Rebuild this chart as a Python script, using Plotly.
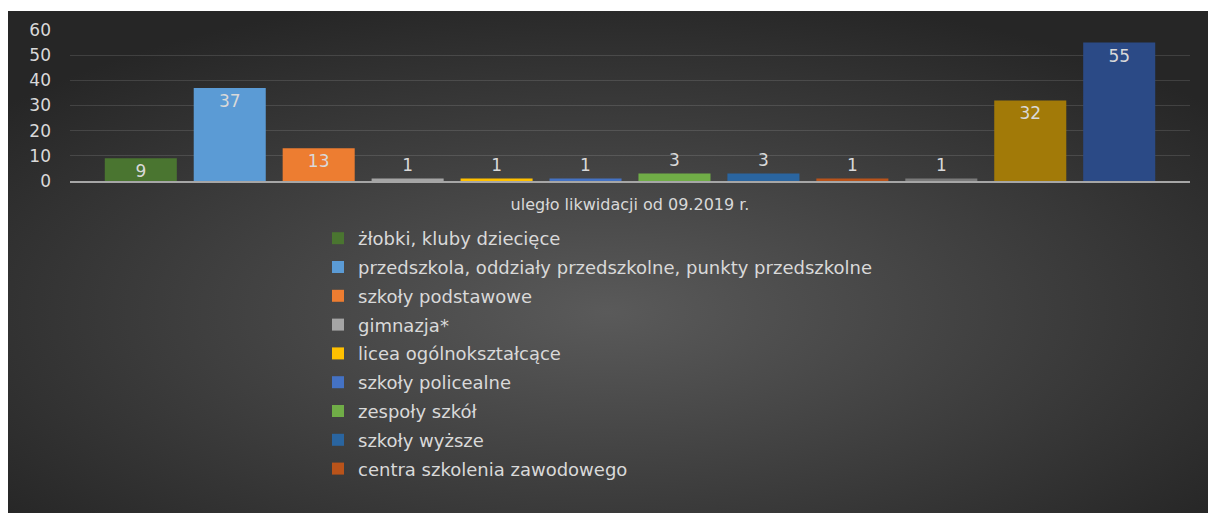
import base64
import plotly.graph_objects as go

# one category on the x axis, one trace per institution type
category = "uległo likwidacji od 09.2019 r."
names = [
    "żłobki, kluby dziecięce",
    "przedszkola, oddziały przedszkolne, punkty przedszkolne",
    "szkoły podstawowe",
    "gimnazja*",
    "licea ogólnokształcące",
    "szkoły policealne",
    "zespoły szkół",
    "szkoły wyższe",
    "centra szkolenia zawodowego",
    "",
    "",
    "",
]
values = [9, 37, 13, 1, 1, 1, 3, 3, 1, 1, 32, 55]
colors = [
    "#4a7530", "#5b9bd5", "#ed7d31", "#a5a5a5", "#ffc000", "#4472c4",
    "#70ad47", "#2a65a0", "#b9531a", "#7a7a7a", "#a27a08", "#2b4a86",
]

# figure fills the whole window (body margin removed below)
W, H = 1208, 513
L, R, T, B = 70, 18, 30, 332
pw, ph = W - L - R, H - T - B
FONT = "DejaVu Sans"

# dark panel starts 8px from the left and 11px from the top
BG_X, BG_Y = 8, 11
bg_w, bg_h = W - BG_X, H - BG_Y

# radial grey background like the Excel dark style
svg = (
    f'<svg xmlns="http://www.w3.org/2000/svg" width="{bg_w}" height="{bg_h}" '
    'preserveAspectRatio="none">'
    '<defs><radialGradient id="g" cx="50%" cy="60%" r="65%">'
    '<stop offset="0%" stop-color="#5a5a5a"/>'
    '<stop offset="100%" stop-color="#262626"/>'
    '</radialGradient></defs>'
    f'<rect width="{bg_w}" height="{bg_h}" fill="url(#g)"/></svg>'
)
bg_src = "data:image/svg+xml;base64," + base64.b64encode(svg.encode()).decode()

fig = go.Figure()
for i, (name, val, col) in enumerate(zip(names, values, colors)):
    fig.add_trace(go.Bar(
        x=[category],
        y=[val],
        name=name if name else f"seria {i + 1}",
        showlegend=bool(name),
        legendgroup=str(i),
        marker=dict(color=col, line=dict(width=0)),
        text=[val],
        textposition="inside" if val > 5 else "outside",
        insidetextanchor="end",
        textangle=0,
        textfont=dict(family=FONT, size=17, color="#d9d9d9"),
        cliponaxis=False,
    ))

fig.update_layout(
    width=W,
    height=H,
    margin=dict(l=L, r=R, t=T, b=B),
    paper_bgcolor="white",
    plot_bgcolor="rgba(0,0,0,0)",
    barmode="group",
    bargap=0.047,
    bargroupgap=0.19,
    font=dict(family=FONT, size=16, color="#d9d9d9"),
    images=[dict(
        source=bg_src,
        xref="paper", yref="paper",
        x=(BG_X - L) / pw, y=(T + ph - BG_Y) / ph,
        sizex=bg_w / pw, sizey=bg_h / ph,
        xanchor="left", yanchor="top",
        sizing="stretch", layer="below",
    )],
    legend=dict(
        orientation="v",
        x=(318 - L) / pw,
        xanchor="left",
        y=-(220 - T - ph) / ph,
        yanchor="top",
        traceorder="grouped",
        tracegroupgap=2.4,
        maxheight=400,
        bgcolor="rgba(0,0,0,0)",
        font=dict(family=FONT, size=18, color="#d9d9d9"),
        itemwidth=30,
    ),
    uniformtext=dict(minsize=17, mode="show"),
)

fig.update_yaxes(
    range=[0, 60],
    dtick=10,
    showgrid=True,
    gridcolor="rgba(255,255,255,0.12)",
    gridwidth=1,
    zeroline=False,
    showline=False,
    ticks="",
    ticklabelstandoff=18,
    tickfont=dict(family=FONT, size=17, color="#d9d9d9"),
)
fig.update_xaxes(
    showline=True,
    linecolor="#a6a6a6",
    linewidth=2,
    ticks="outside",
    ticklen=8,
    tickcolor="rgba(0,0,0,0)",
    tickfont=dict(family=FONT, size=16, color="#d9d9d9"),
)

# drop the default body margin so the figure sits in the window corner
fig.write_html(
    "out.html",
    config={"displayModeBar": False},
    post_script="document.body.style.margin='0';document.body.style.overflow='hidden';",
)
